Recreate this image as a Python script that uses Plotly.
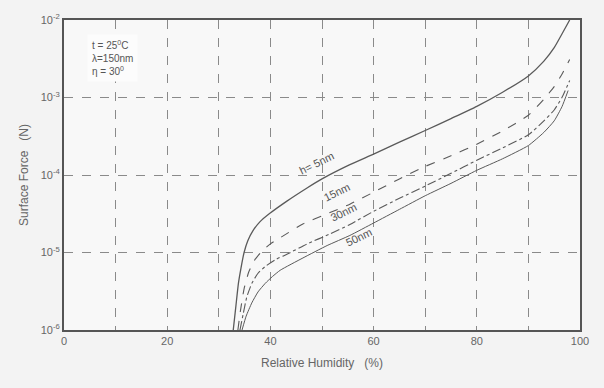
import plotly.graph_objects as go

# ---- data ----
rh_5 = [32.8, 33.3, 33.8, 34.3, 34.9, 35.6, 36.6, 38.0, 39.9, 43.2, 47.1, 50, 55, 60, 65, 70, 75, 80, 85,
        90, 93, 95, 96.5, 98]
f_5 = [1.0e-6, 2.0e-6, 4.0e-6, 6.3e-6, 1.0e-5, 1.41e-5, 1.9e-5, 2.5e-5, 3.2e-5, 4.6e-5, 6.8e-5, 8.9e-5,
       1.32e-4, 1.86e-4, 2.65e-4, 3.75e-4, 5.35e-4, 7.7e-4, 1.17e-3, 1.9e-3, 2.95e-3, 4.4e-3, 6.6e-3, 1.0e-2]

rh_15 = [33.7, 34.2, 34.9, 35.8, 36.9, 38.4, 40.0, 41.9, 46.3, 51, 55.4, 60, 65, 70, 75, 80, 85, 90, 93,
         95, 96.5, 98]
f_15 = [1.0e-6, 1.78e-6, 3.4e-6, 5.6e-6, 7.9e-6, 1.05e-5, 1.29e-5, 1.55e-5, 2.34e-5, 3.16e-5, 4.2e-5,
        6.0e-5, 8.9e-5, 1.29e-4, 1.77e-4, 2.5e-4, 3.7e-4, 5.9e-4, 9.5e-4, 1.38e-3, 2.0e-3, 3.1e-3]

rh_30 = [34.1, 34.7, 35.4, 36.4, 37.6, 39.0, 41.0, 43.2, 47.1, 51.6, 55.4, 60, 65, 70, 75, 80, 85, 90,
         93, 95, 96.5, 98]
f_30 = [1.0e-6, 1.58e-6, 2.63e-6, 4.0e-6, 5.4e-6, 6.6e-6, 8.1e-6, 9.5e-6, 1.29e-5, 1.74e-5, 2.3e-5,
        3.4e-5, 5.0e-5, 7.2e-5, 1.05e-4, 1.55e-4, 2.24e-4, 3.3e-4, 5.0e-4, 6.9e-4, 1.0e-3, 1.66e-3]

rh_50 = [34.5, 35.3, 36.4, 37.6, 39.0, 40.4, 41.9, 46.3, 51, 55.4, 60, 65, 70, 75, 80, 85, 90, 93, 95,
         96.5, 97.7]
f_50 = [1.0e-6, 1.51e-6, 2.24e-6, 3.1e-6, 4.0e-6, 4.9e-6, 5.9e-6, 8.5e-6, 1.23e-5, 1.66e-5, 2.4e-5,
        3.6e-5, 5.4e-5, 7.8e-5, 1.15e-4, 1.62e-4, 2.4e-4, 3.55e-4, 5.0e-4, 7.6e-4, 1.23e-3]

x_ticks = [0, 10, 20, 30, 40, 50, 60, 70, 80, 90, 100]
x_ticklabels = ["0", "", "20", "", "40", "", "60", "", "80", "", "100"]
y_ticks = [1e-6, 1e-5, 1e-4, 1e-3, 1e-2]
y_ticklabels = ["10<sup>-6</sup>", "10<sup>-5</sup>", "10<sup>-4</sup>", "10<sup>-3</sup>", "10<sup>-2</sup>"]

curve_labels = ["h= 5nm", "15nm", "30nm", "50nm"]
# label anchor: (RH, log10 of force) -- log axes take exponents for annotations
label_pos = [(49.0, -3.84), (52.9, -4.22), (54.3, -4.48), (57.2, -4.80)]

info_lines = ["t = 25<sup>0</sup>C", "λ=150nm", "η = 30<sup>0</sup>"]

# ---- figure ----
LINE = "#5a5a5a"
FONT = "Liberation Sans, Arial, sans-serif"
fig = go.Figure()
series = [(rh_5, f_5, "solid", 1.3), (rh_15, f_15, "dash", 1.1),
          (rh_30, f_30, "dashdot", 1.1), (rh_50, f_50, "solid", 1.0)]
for (xs, ys, dash, w), name in zip(series, curve_labels):
    fig.add_trace(go.Scatter(x=xs, y=ys, mode="lines", name=name,
                             line=dict(color=LINE, width=w, dash=dash, shape="spline", smoothing=0.5),
                             showlegend=False))

for name, (lx, ly) in zip(curve_labels, label_pos):
    fig.add_annotation(x=lx, y=ly, text=name, showarrow=False, textangle=-26,
                       font=dict(family=FONT, size=11, color="#555"))

fig.add_annotation(xref="paper", yref="paper", x=0.045, y=0.955, xanchor="left", yanchor="top",
                   text="<br>".join(info_lines), showarrow=False, align="left",
                   bgcolor="#fcfcfc", borderpad=4,
                   font=dict(family=FONT, size=10, color="#555"))

axis_font = dict(family=FONT, size=11, color="#666")
fig.update_xaxes(range=[0, 100], tickvals=x_ticks, ticktext=x_ticklabels,
                 showgrid=True, gridcolor="#8a8a8a", griddash="dash", gridwidth=1,
                 showline=True, linecolor="#555", linewidth=2, mirror=True, ticks="",
                 zeroline=False, tickfont=axis_font,
                 title=dict(text="Relative Humidity   (%)", font=dict(family=FONT, size=12, color="#666"), standoff=12))
fig.update_yaxes(type="log", range=[-6, -2], tickvals=y_ticks, ticktext=y_ticklabels,
                 showgrid=True, gridcolor="#8a8a8a", griddash="dash", gridwidth=1,
                 showline=True, linecolor="#555", linewidth=2, mirror=True, ticks="",
                 zeroline=False, tickfont=axis_font,
                 title=dict(text="Surface Force   (N)", font=dict(family=FONT, size=12, color="#666"), standoff=10))

fig.update_layout(width=604, height=388, margin=dict(l=64, r=24, t=17, b=58),
                  paper_bgcolor="#f3f3f3", plot_bgcolor="#f8f8f8")

fig.write_html("out.html")
